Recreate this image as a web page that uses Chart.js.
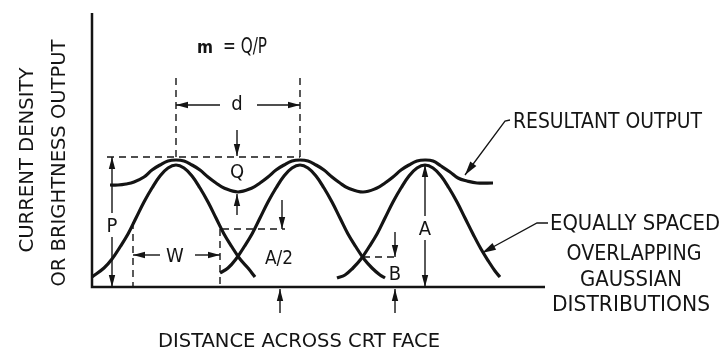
<!DOCTYPE html>
<html lang="en">
<head>
<meta charset="UTF-8">
<title>Overlapping Gaussian spot profiles</title>
<script src="https://cdn.jsdelivr.net/npm/chart.js"></script>
<style>
  html, body { margin: 0; padding: 0; background: #fff; }
  canvas { display: block; }
</style>
</head>
<body>
<canvas id="spotChart" width="722" height="349"></canvas>
<script>
// Curves. x = distance from the vertical axis, y = height above the baseline
const gauss1X = [0, 12, 20, 28, 36, 44, 52, 60, 68, 76, 84, 92, 100, 108, 116, 124, 132, 140, 148, 156, 163];
const gauss1Y = [10, 19, 28, 40, 53, 69, 85, 99, 111, 119, 122, 119, 111, 99, 85, 69, 53, 40, 28, 19, 10];

const gauss2X = [128, 136, 144, 152, 160, 168, 176, 184, 192, 200, 208, 216, 224, 232, 240, 248, 256, 264, 272, 280, 288, 293];
const gauss2Y = [14, 19, 28, 40, 53, 69, 85, 99, 111, 119, 122, 119, 111, 99, 85, 69, 53, 40, 28, 19, 12, 9];

const gauss3X = [245, 253, 261, 269, 277, 285, 293, 301, 309, 317, 325, 333, 341, 349, 357, 365, 373, 381, 389, 397, 403, 408];
const gauss3Y = [9, 12, 19, 28, 40, 53, 69, 85, 99, 111, 119, 122, 119, 111, 99, 85, 69, 53, 38, 25, 16, 10];

const resultX = [18, 26, 34, 42, 52, 60, 68, 76, 84, 92, 100, 108, 116, 124, 132, 146, 160, 168, 176, 184, 192, 200, 208,
                 216, 224, 232, 240, 248, 256, 271, 285, 293, 301, 309, 317, 325, 333, 341, 349, 358, 366, 375, 385, 401];
const resultY = [102, 102, 103, 105, 110, 117, 122, 126, 127, 126, 122, 117, 110, 104, 99, 95, 99, 104, 110, 117, 122, 126, 127,
                 126, 122, 117, 110, 104, 99, 95, 99, 104, 110, 117, 122, 126, 127, 126, 121, 115, 109, 106, 104, 104];

// dimension marks (in the same units as the curves)
const dashLines = [
  [15, 130, 208, 130],                      // peak level
  [84, 130, 84, 210], [208, 130, 208, 210], // d extents
  [130, 58, 193, 58],                       // A/2 level
  [41, 65, 41, 0], [128, 58, 128, 0],       // W extents
  [271, 30, 306, 30]                        // B level
];
const arrowLines = [
  [128, 182, 84, 182], [165, 182, 208, 182], // d
  [145, 157, 145, 131], [145, 72, 145, 93],  // Q
  [20, 62, 20, 130], [20, 62, 20, 0],        // P
  [190, 87, 190, 58], [188, -26, 188, -2],   // A/2
  [68, 32, 41, 32], [103, 32, 128, 32],      // W
  [303, 55, 303, 30], [303, -26, 303, -2],   // B
  [333, 59, 333, 122], [333, 59, 333, 0]     // A
];
const leaders = [
  [[418, 167], [413, 166], [373, 112]],
  [[456, 64], [445, 64], [390, 34]]
];
const labels = [
  { t: 'P', x: 20, y: 62, bg: true },
  { t: 'Q', x: 145, y: 115 },
  { t: 'd', x: 145, y: 185 },
  { t: 'W', x: 83, y: 32 },
  { t: 'A/2', x: 187, y: 29, w: 28 },
  { t: 'B', x: 303, y: 14 },
  { t: 'A', x: 333, y: 59, bg: true },
  { t: 'RESULTANT OUTPUT', x: 421, y: 167, w: 189, align: 'left', size: 21 },
  { t: 'EQUALLY SPACED', x: 543, y: 64, w: 170, size: 21 },
  { t: 'OVERLAPPING', x: 542, y: 35, w: 135, size: 21 },
  { t: 'GAUSSIAN', x: 539, y: 9, w: 102, size: 21 },
  { t: 'DISTRIBUTIONS', x: 539, y: -16, w: 158, size: 21 },
  { t: 'DISTANCE ACROSS CRT FACE', x: 207, y: -53, w: 282, size: 20 },
  { t: 'CURRENT DENSITY', x: -66, y: 127, w: 185, rot: true, size: 20 },
  { t: 'OR BRIGHTNESS OUTPUT', x: -34, y: 124, w: 247, rot: true, size: 20 },
  { t: 'm', x: 113, y: 239, w: 16, bold: true, size: 18 },
  { t: '= Q/P', x: 153, y: 241, w: 44, size: 21 }
];

const ink = '#141414';
const fontFam = '"DejaVu Sans Condensed", "DejaVu Sans", sans-serif';

function pts(xs, ys) {
  return xs.map((x, i) => ({ x: x, y: ys[i] }));
}

function curve(xs, ys) {
  return {
    data: pts(xs, ys),
    borderColor: ink,
    borderWidth: 3.2,
    pointRadius: 0,
    tension: 0.4,
    fill: false,
    clip: false
  };
}

function head(ctx, x1, y1, x2, y2, len, half) {
  const a = Math.atan2(y2 - y1, x2 - x1);
  const c = Math.cos(a), s = Math.sin(a);
  ctx.beginPath();
  ctx.moveTo(x2, y2);
  ctx.lineTo(x2 - len * c + half * s, y2 - len * s - half * c);
  ctx.lineTo(x2 - len * c - half * s, y2 - len * s + half * c);
  ctx.closePath();
  ctx.fill();
}

function drawText(ctx, lb, px, py) {
  ctx.save();
  const size = lb.size || 20;
  ctx.font = (lb.bold ? 'bold ' : '') + size + 'px ' + fontFam;
  const m = ctx.measureText(lb.t);
  const sx = lb.w ? lb.w / m.width : 1;
  const dy = (m.actualBoundingBoxAscent - m.actualBoundingBoxDescent) / 2;
  ctx.translate(px, py);
  if (lb.rot) ctx.rotate(-Math.PI / 2);
  if (lb.bg) {
    ctx.fillStyle = '#fff';
    ctx.fillRect(-m.width * sx / 2 - 2, -m.actualBoundingBoxAscent / 2 - 5, m.width * sx + 4, m.actualBoundingBoxAscent + 10);
  }
  ctx.scale(sx, 1);
  ctx.textAlign = lb.align || 'center';
  ctx.textBaseline = 'alphabetic';
  ctx.fillStyle = ink;
  ctx.fillText(lb.t, 0, dy);
  ctx.restore();
}

const annotate = {
  id: 'annotate',
  afterDatasetsDraw(chart) {
    const ctx = chart.ctx;
    const X = v => chart.scales.x.getPixelForValue(v);
    const Y = v => chart.scales.y.getPixelForValue(v);
    ctx.save();
    ctx.strokeStyle = ink;
    ctx.fillStyle = ink;

    // axes
    ctx.lineWidth = 2.5;
    ctx.beginPath();
    ctx.moveTo(X(0), Y(chart.scales.y.max));
    ctx.lineTo(X(0), Y(0));
    ctx.lineTo(X(chart.scales.x.max), Y(0));
    ctx.stroke();

    // dashed construction lines
    ctx.lineWidth = 1.4;
    ctx.setLineDash([7, 5]);
    dashLines.forEach(d => {
      ctx.beginPath();
      ctx.moveTo(X(d[0]), Y(d[1]));
      ctx.lineTo(X(d[2]), Y(d[3]));
      ctx.stroke();
    });
    ctx.setLineDash([]);

    // dimension arrows
    ctx.lineWidth = 1.4;
    arrowLines.forEach(a => {
      ctx.beginPath();
      ctx.moveTo(X(a[0]), Y(a[1]));
      ctx.lineTo(X(a[2]), Y(a[3]));
      ctx.stroke();
      head(ctx, X(a[0]), Y(a[1]), X(a[2]), Y(a[3]), 12, 3.2);
    });

    // callout leaders
    ctx.lineWidth = 1.3;
    leaders.forEach(l => {
      ctx.beginPath();
      l.forEach((p, i) => i ? ctx.lineTo(X(p[0]), Y(p[1])) : ctx.moveTo(X(p[0]), Y(p[1])));
      ctx.stroke();
      const a = l[l.length - 2], b = l[l.length - 1];
      head(ctx, X(a[0]), Y(a[1]), X(b[0]), Y(b[1]), 14, 3.8);
    });

    labels.forEach(lb => drawText(ctx, lb, X(lb.x), Y(lb.y)));
    ctx.restore();
  }
};

new Chart(document.getElementById('spotChart'), {
  type: 'line',
  data: {
    datasets: [
      curve(gauss1X, gauss1Y),
      curve(gauss2X, gauss2Y),
      curve(gauss3X, gauss3Y),
      curve(resultX, resultY)
    ]
  },
  options: {
    responsive: false,
    animation: false,
    events: [],
    layout: { padding: { left: 92, right: 177, top: 13, bottom: 62 } },
    scales: {
      x: { type: 'linear', min: 0, max: 453, display: false },
      y: { type: 'linear', min: 0, max: 274, display: false }
    },
    plugins: { legend: { display: false }, tooltip: { enabled: false } }
  },
  plugins: [annotate]
});
</script>
</body>
</html>
